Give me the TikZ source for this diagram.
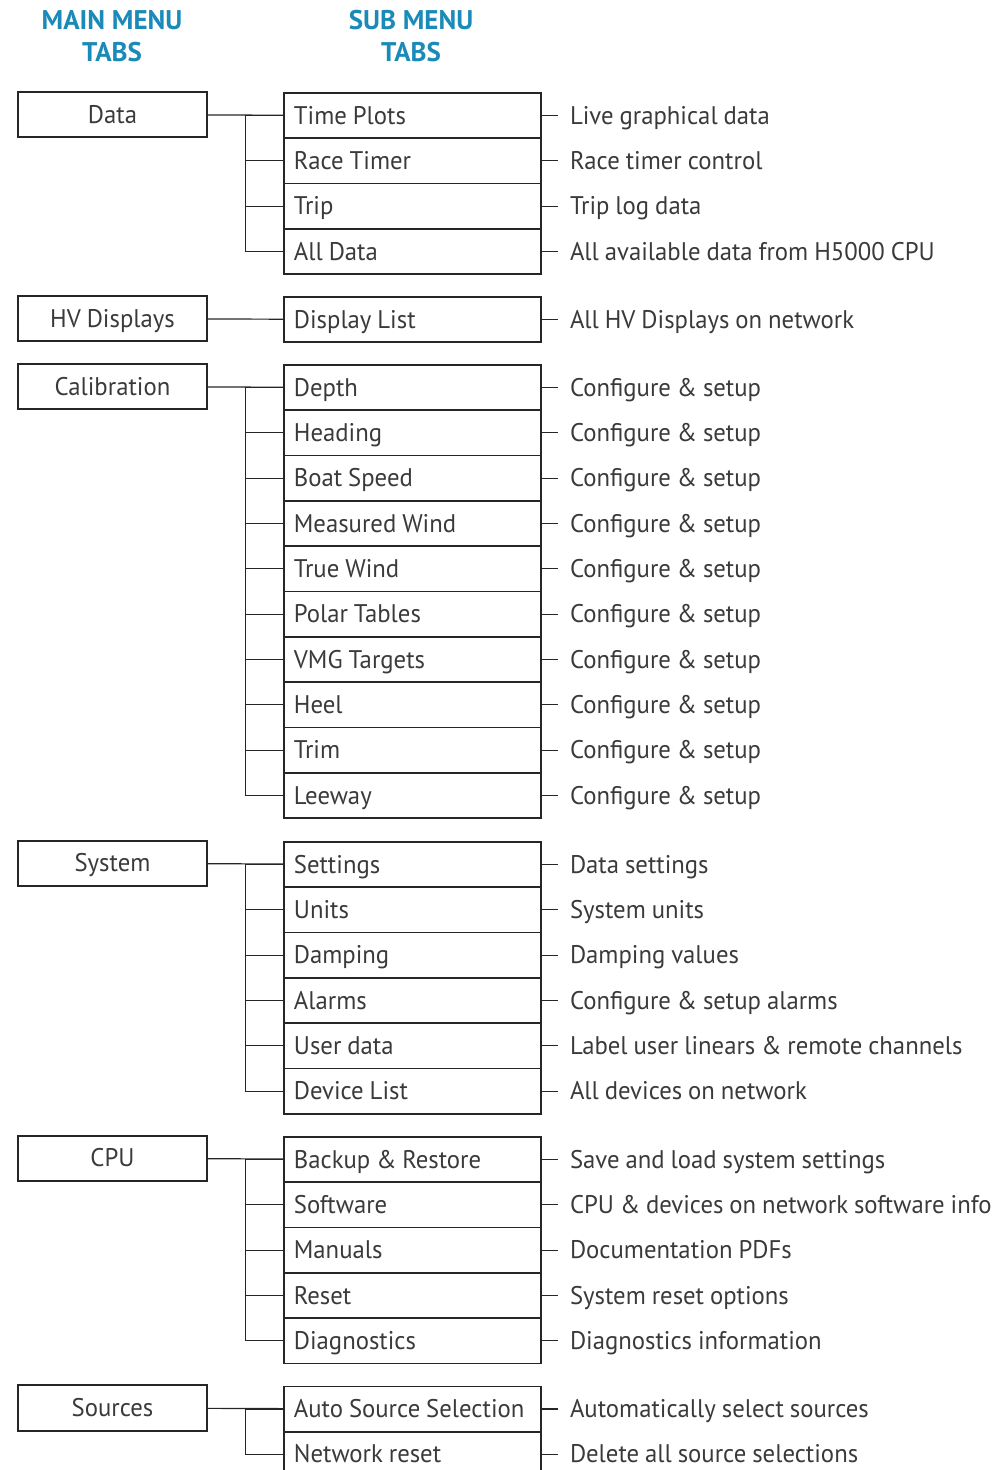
\documentclass[tikz,border=0pt]{standalone}
\usepackage{fontspec}
\setmainfont{PT Sans}[FakeStretch=0.97, WordSpace=0.9]
\newfontfamily\headfont{PT Sans}
\usetikzlibrary{positioning,calc}
\definecolor{tabblue}{HTML}{1A8AB8}
\definecolor{inkgray}{HTML}{3A3A3A}

\begin{document}
\begin{tikzpicture}[x=1pt, y=-1pt,
    font=\fontsize{25.5}{30}\selectfont, text=inkgray,
    heading/.style={align=center, font=\headfont\fontsize{27}{32}\selectfont\bfseries, text=tabblue},
    maintab/.style={draw=black!85, line width=1.8pt, minimum width=189pt, minimum height=45.3pt, inner sep=0pt, text height=22pt, text depth=5pt},
    subtab/.style={draw=black!85, line width=1.8pt, text width=237pt, minimum height=45.3pt, inner xsep=10pt, inner ysep=0pt, align=flush left, anchor=north west, text height=22pt, text depth=5pt},
    desc/.style={anchor=west, inner xsep=12pt, inner ysep=0pt, text height=22pt, text depth=5pt},
    link/.style={draw=black!85, line width=1.2pt}
  ]
  \useasboundingbox (0,0) rectangle (1007,1470);

  % headings
  \node[heading] (mainhead) at (112,36) {MAIN MENU\\TABS};
  \node[heading] (subhead) at (411,36) {SUB MENU\\TABS};

  % Data
  \node[maintab] (data) at (112.5,114.7) {Data};
  \foreach \s/\d [count=\i] in {Time Plots/Live graphical data, Race Timer/Race timer control,
      Trip/Trip log data, All Data/All available data from H5000 CPU} {
    \node[subtab] (data\i) at (283,{92+(\i-1)*45.33}) {\s};
    \node[desc] (data\i d) at ($(data\i.east)+(16,0)$) {\d};
    \draw[link] (data\i) -- (data\i d);
    \draw[link] ($(data.east)!0.5!(data1.west)$) |- (data\i.west);
  }
  \draw[link] (data) -- (data1);

  % HV Displays
  \node[maintab] (hv) at (112.5,318.7) {HV Displays};
  \foreach \s/\d [count=\i] in {Display List/All HV Displays on network} {
    \node[subtab] (hv\i) at (283,{296+(\i-1)*45.33}) {\s};
    \node[desc] (hv\i d) at ($(hv\i.east)+(16,0)$) {\d};
    \draw[link] (hv\i) -- (hv\i d);
  }
  \draw[link] (hv) -- (hv1);

  % Calibration
  \node[maintab] (cal) at (112.5,386.7) {Calibration};
  \foreach \s/\d [count=\i] in {Depth/Configure \& setup, Heading/Configure \& setup,
      Boat Speed/Configure \& setup, Measured Wind/Configure \& setup, True Wind/Configure \& setup,
      Polar Tables/Configure \& setup, VMG Targets/Configure \& setup, Heel/Configure \& setup,
      Trim/Configure \& setup, Leeway/Configure \& setup} {
    \node[subtab] (cal\i) at (283,{364+(\i-1)*45.33}) {\s};
    \node[desc] (cal\i d) at ($(cal\i.east)+(16,0)$) {\d};
    \draw[link] (cal\i) -- (cal\i d);
    \draw[link] ($(cal.east)!0.5!(cal1.west)$) |- (cal\i.west);
  }
  \draw[link] (cal) -- (cal1);

  % System
  \node[maintab] (sys) at (112.5,863.3) {System};
  \foreach \s/\d [count=\i] in {Settings/Data settings, Units/System units,
      Damping/Damping values, Alarms/Configure \& setup alarms,
      User data/Label user linears \& remote channels, Device List/All devices on network} {
    \node[subtab] (sys\i) at (283,{841+(\i-1)*45.33}) {\s};
    \node[desc] (sys\i d) at ($(sys\i.east)+(16,0)$) {\d};
    \draw[link] (sys\i) -- (sys\i d);
    \draw[link] ($(sys.east)!0.5!(sys1.west)$) |- (sys\i.west);
  }
  \draw[link] (sys) -- (sys1);

  % CPU
  \node[maintab] (cpu) at (112.5,1158.3) {CPU};
  \foreach \s/\d [count=\i] in {Backup \& Restore/Save and load system settings,
      Software/CPU \& devices on network software info, Manuals/Documentation PDFs,
      Reset/System reset options, Diagnostics/Diagnostics information} {
    \node[subtab] (cpu\i) at (283,{1136+(\i-1)*45.33}) {\s};
    \node[desc] (cpu\i d) at ($(cpu\i.east)+(16,0)$) {\d};
    \draw[link] (cpu\i) -- (cpu\i d);
    \draw[link] ($(cpu.east)!0.5!(cpu1.west)$) |- (cpu\i.west);
  }
  \draw[link] (cpu) -- (cpu1);

  % Sources
  \node[maintab] (src) at (112.5,1408) {Sources};
  \foreach \s/\d [count=\i] in {Auto Source Selection/Automatically select sources,
      Network reset/Delete all source selections} {
    \node[subtab] (src\i) at (283,{1385.5+(\i-1)*45.33}) {\s};
    \node[desc] (src\i d) at ($(src\i.east)+(16,0)$) {\d};
    \draw[link] (src\i) -- (src\i d);
    \draw[link] ($(src.east)!0.5!(src1.west)$) |- (src\i.west);
  }
  \draw[link] (src) -- (src1);
\end{tikzpicture}
\end{document}
